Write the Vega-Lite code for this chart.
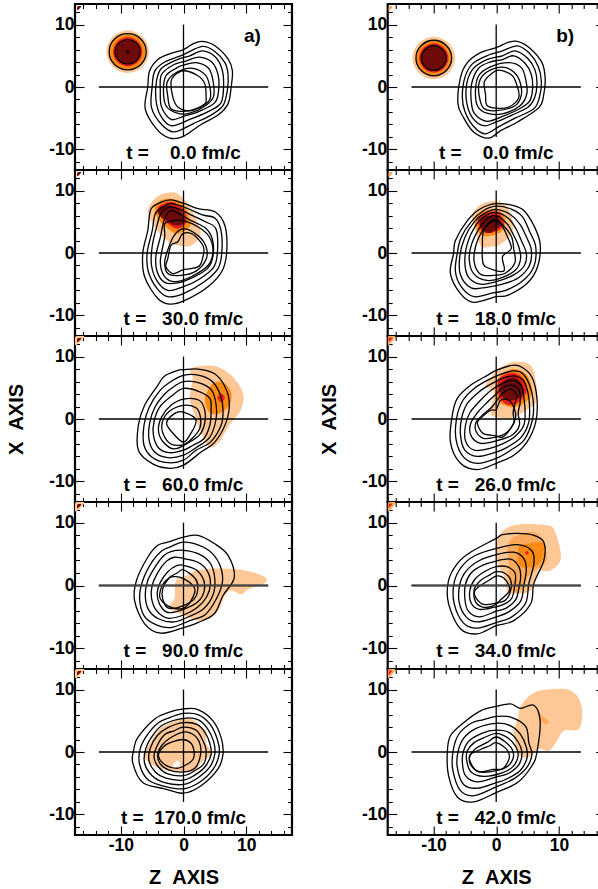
{"$schema":"https://vega.github.io/schema/vega-lite/v6.json","padding":{"left":5,"top":2,"right":0,"bottom":0},"background":"white",
"config":{"view":{"stroke":"black","strokeWidth":2.2},"axis":{"domain":false,"grid":false,"labelFont":"Liberation Sans","labelFontWeight":"bold","labelFontSize":17.5,"labelColor":"black","labelPadding":10,"tickColor":"black","tickWidth":1.1,"titleFont":"Liberation Sans","titleFontWeight":"bold","titleFontSize":20,"titleColor":"black","titlePadding":14},"text":{"font":"Liberation Sans","fontWeight":"bold","fontSize":19,"color":"black","baseline":"middle"}},
"datasets":{
"cross":[{"c":"h","z":-13.5,"x":0},{"c":"h","z":13.5,"x":0},{"c":"v","z":0,"x":10},{"c":"v","z":0,"x":-8}],
"thick":[{"z":-13.5,"x":0},{"z":13.5,"x":0}],
"c1":[{"c":1,"z":3.0,"x":7.3},{"c":1,"z":5,"x":6.6},{"c":1,"z":7.1,"x":4.5},{"c":1,"z":7.8,"x":2.6},{"c":1,"z":7.6,"x":0},{"c":1,"z":7.1,"x":-2.7},{"c":1,"z":5.5,"x":-4.5},{"c":1,"z":2.8,"x":-6},{"c":1,"z":0,"x":-7.9},{"c":1,"z":-2.2,"x":-8.2},{"c":1,"z":-4.3,"x":-6.7},{"c":1,"z":-6.1,"x":-3.5},{"c":1,"z":-5.7,"x":0},{"c":1,"z":-5.4,"x":2.6},{"c":1,"z":-4,"x":4.5},{"c":1,"z":-2,"x":5.4},{"c":1,"z":0,"x":6},{"c":1,"z":1.5,"x":6.9},
{"c":2,"z":3,"x":6.5},{"c":2,"z":5,"x":5.7},{"c":2,"z":6.6,"x":3.9},{"c":2,"z":7.1,"x":2},{"c":2,"z":7,"x":-0.5},{"c":2,"z":6.3,"x":-3},{"c":2,"z":4.4,"x":-4.5},{"c":2,"z":1.5,"x":-5.9},{"c":2,"z":-1.5,"x":-7.2},{"c":2,"z":-3.5,"x":-6},{"c":2,"z":-5.1,"x":-3.3},{"c":2,"z":-5,"x":0},{"c":2,"z":-4.6,"x":2.5},{"c":2,"z":-3,"x":4},{"c":2,"z":0,"x":5.2},
{"c":3,"z":3,"x":5.8},{"c":3,"z":5,"x":4.9},{"c":3,"z":6.1,"x":3},{"c":3,"z":6.4,"x":0.5},{"c":3,"z":6,"x":-2.5},{"c":3,"z":4,"x":-3.9},{"c":3,"z":1,"x":-5.2},{"c":3,"z":-2,"x":-6.2},{"c":3,"z":-3.7,"x":-4.5},{"c":3,"z":-4.4,"x":-2},{"c":3,"z":-4.3,"x":1},{"c":3,"z":-3.5,"x":3},{"c":3,"z":-1,"x":4.4},{"c":3,"z":1,"x":5},
{"c":4,"z":2.5,"x":4.8},{"c":4,"z":4.5,"x":4},{"c":4,"z":5.5,"x":2},{"c":4,"z":5.6,"x":-0.5},{"c":4,"z":5,"x":-2.5},{"c":4,"z":2.5,"x":-3.9},{"c":4,"z":0,"x":-4.7},{"c":4,"z":-2,"x":-5.2},{"c":4,"z":-3.5,"x":-3.2},{"c":4,"z":-3.7,"x":-0.5},{"c":4,"z":-3.5,"x":2},{"c":4,"z":-1.5,"x":3.6},{"c":4,"z":0.5,"x":4.2},
{"c":5,"z":2,"x":3.9},{"c":5,"z":4,"x":3},{"c":5,"z":4.7,"x":1},{"c":5,"z":4.8,"x":-1.5},{"c":5,"z":3.5,"x":-3},{"c":5,"z":1,"x":-4.2},{"c":5,"z":-1,"x":-4.2},{"c":5,"z":-2.8,"x":-3},{"c":5,"z":-3.2,"x":-0.5},{"c":5,"z":-2.8,"x":1.8},{"c":5,"z":-1,"x":3.1},{"c":5,"z":0,"x":3.5},
{"c":6,"z":1.5,"x":3},{"c":6,"z":3.5,"x":1.9},{"c":6,"z":4.2,"x":0},{"c":6,"z":4.2,"x":-2},{"c":6,"z":2.5,"x":-3.3},{"c":6,"z":0,"x":-3.9},{"c":6,"z":-2,"x":-3.5},{"c":6,"z":-2.5,"x":-1.5},{"c":6,"z":-2.6,"x":0.8},{"c":6,"z":-1,"x":2.4},
{"c":7,"z":0,"x":2.6},{"c":7,"z":2.3,"x":1.8},{"c":7,"z":3.4,"x":0.5},{"c":7,"z":3.6,"x":-1.6},{"c":7,"z":3.4,"x":-2.7},{"c":7,"z":1.2,"x":-3.8},{"c":7,"z":-0.9,"x":-3.2},{"c":7,"z":-1.7,"x":-1.6},{"c":7,"z":-2,"x":0.8},{"c":7,"z":-1.5,"x":1.8},
{"c":8,"z":-5.95,"x":5.65},{"c":8,"z":-6.8,"x":7.7},{"c":8,"z":-8.9,"x":8.55},{"c":8,"z":-11,"x":7.7},{"c":8,"z":-11.85,"x":5.65},{"c":8,"z":-11,"x":3.6},{"c":8,"z":-8.9,"x":2.75},{"c":8,"z":-6.8,"x":3.6},
{"c":9,"z":-6.9,"x":5.65},{"c":9,"z":-7.5,"x":7.05},{"c":9,"z":-8.9,"x":7.6},{"c":9,"z":-10.3,"x":7.05},{"c":9,"z":-10.9,"x":5.65},{"c":9,"z":-10.3,"x":4.25},{"c":9,"z":-8.9,"x":3.7},{"c":9,"z":-7.5,"x":4.25},
{"c":10,"z":-8.75,"x":5.65},{"c":10,"z":-8.9,"x":5.8},{"c":10,"z":-9.05,"x":5.65},{"c":10,"z":-8.9,"x":5.5}],
"b1":[{"c":1,"l":"l","z":-5.5,"x":5.65},{"c":1,"l":"l","z":-6.5,"x":8.05},{"c":1,"l":"l","z":-8.9,"x":9.05},{"c":1,"l":"l","z":-11.3,"x":8.05},{"c":1,"l":"l","z":-12.3,"x":5.65},{"c":1,"l":"l","z":-11.3,"x":3.25},{"c":1,"l":"l","z":-8.9,"x":2.25},{"c":1,"l":"l","z":-6.5,"x":3.25},
{"c":2,"l":"o","z":-6.1,"x":5.65},{"c":2,"l":"o","z":-6.9,"x":7.65},{"c":2,"l":"o","z":-8.9,"x":8.45},{"c":2,"l":"o","z":-10.9,"x":7.65},{"c":2,"l":"o","z":-11.7,"x":5.65},{"c":2,"l":"o","z":-10.9,"x":3.65},{"c":2,"l":"o","z":-8.9,"x":2.85},{"c":2,"l":"o","z":-6.9,"x":3.65},
{"c":3,"l":"r","z":-6.55,"x":5.65},{"c":3,"l":"r","z":-7.25,"x":7.3},{"c":3,"l":"r","z":-8.9,"x":8},{"c":3,"l":"r","z":-10.55,"x":7.3},{"c":3,"l":"r","z":-11.25,"x":5.65},{"c":3,"l":"r","z":-10.55,"x":4},{"c":3,"l":"r","z":-8.9,"x":3.3},{"c":3,"l":"r","z":-7.25,"x":4},
{"c":4,"l":"d","z":-6.9,"x":5.65},{"c":4,"l":"d","z":-7.5,"x":7.05},{"c":4,"l":"d","z":-8.9,"x":7.5},{"c":4,"l":"d","z":-10.3,"x":7.05},{"c":4,"l":"d","z":-10.9,"x":5.65},{"c":4,"l":"d","z":-10.3,"x":4.25},{"c":4,"l":"d","z":-8.9,"x":3.8},{"c":4,"l":"d","z":-7.5,"x":4.25},
{"c":5,"l":"d","z":-16.9,"x":12.3},{"c":5,"l":"d","z":-16.3,"x":12.9},{"c":5,"l":"d","z":-16.9,"x":12.9}],
"c2":[{"c":1,"z":-2,"x":8.5},{"c":1,"z":0.2,"x":7.9},{"c":1,"z":2.3,"x":7.1},{"c":1,"z":5,"x":6.6},{"c":1,"z":6.6,"x":4.4},{"c":1,"z":6.9,"x":0.4},{"c":1,"z":6.2,"x":-2.8},{"c":1,"z":3.9,"x":-5.4},{"c":1,"z":0.2,"x":-7.6},{"c":1,"z":-2.2,"x":-8.2},{"c":1,"z":-4.1,"x":-7.3},{"c":1,"z":-6.2,"x":-3.8},{"c":1,"z":-6.5,"x":-0.1},{"c":1,"z":-5.7,"x":3.6},{"c":1,"z":-5.2,"x":7},{"c":1,"z":-3.6,"x":8.1},
{"c":2,"z":-2,"x":7.9},{"c":2,"z":0.5,"x":7.2},{"c":2,"z":3,"x":6.1},{"c":2,"z":5,"x":5.6},{"c":2,"z":6,"x":3.5},{"c":2,"z":6.1,"x":0},{"c":2,"z":5.5,"x":-2.5},{"c":2,"z":3.2,"x":-4.7},{"c":2,"z":0,"x":-6.5},{"c":2,"z":-2.5,"x":-7},{"c":2,"z":-4.2,"x":-5.7},{"c":2,"z":-5.6,"x":-3},{"c":2,"z":-5.8,"x":0},{"c":2,"z":-5,"x":3.5},{"c":2,"z":-4.5,"x":6.3},{"c":2,"z":-3.2,"x":7.4},
{"c":3,"z":-1.8,"x":7.4},{"c":3,"z":1,"x":6.2},{"c":3,"z":3.5,"x":5},{"c":3,"z":5.2,"x":3.8},{"c":3,"z":5.4,"x":0},{"c":3,"z":4.8,"x":-2.3},{"c":3,"z":2.5,"x":-4.2},{"c":3,"z":0,"x":-5.4},{"c":3,"z":-2.5,"x":-6},{"c":3,"z":-4.2,"x":-4.5},{"c":3,"z":-5.1,"x":-2},{"c":3,"z":-5,"x":1},{"c":3,"z":-4.2,"x":4.5},{"c":3,"z":-3.5,"x":6.5},
{"c":4,"z":-1.8,"x":6.8},{"c":4,"z":1,"x":5.3},{"c":4,"z":3.5,"x":4},{"c":4,"z":4.6,"x":2.2},{"c":4,"z":4.7,"x":-0.5},{"c":4,"z":3.8,"x":-2.5},{"c":4,"z":1.5,"x":-3.9},{"c":4,"z":-1,"x":-4.8},{"c":4,"z":-3,"x":-4.7},{"c":4,"z":-4.2,"x":-3},{"c":4,"z":-4.4,"x":-0.5},{"c":4,"z":-3.7,"x":2.5},{"c":4,"z":-3,"x":5.5},
{"c":5,"z":-1.4,"x":5.2},{"c":5,"z":0,"x":5.2},{"c":5,"z":2.3,"x":4.2},{"c":5,"z":4.1,"x":2.6},{"c":5,"z":4.7,"x":0.2},{"c":5,"z":3.9,"x":-2},{"c":5,"z":1.2,"x":-3.8},{"c":5,"z":-1.4,"x":-4.6},{"c":5,"z":-3,"x":-3.8},{"c":5,"z":-3.7,"x":-1.4},{"c":5,"z":-3,"x":2.6},{"c":5,"z":-3,"x":4.7},
{"c":6,"z":0,"x":3.9},{"c":6,"z":2.3,"x":2.8},{"c":6,"z":3.6,"x":1},{"c":6,"z":3.6,"x":-1},{"c":6,"z":2,"x":-2.9},{"c":6,"z":-0.5,"x":-3.6},{"c":6,"z":-2.5,"x":-3.3},{"c":6,"z":-3,"x":-1.5},{"c":6,"z":-2.5,"x":0.5},{"c":6,"z":-1.5,"x":2.8},
{"c":7,"z":-2,"x":1.2},{"c":7,"z":-0.9,"x":1.8},{"c":7,"z":-0.1,"x":3.1},{"c":7,"z":1.5,"x":3},{"c":7,"z":3.1,"x":1.2},{"c":7,"z":3.2,"x":-0.1},{"c":7,"z":2.6,"x":-2},{"c":7,"z":1.2,"x":-2.5},{"c":7,"z":-0.1,"x":-2.7},{"c":7,"z":-1.7,"x":-3.3},{"c":7,"z":-2.8,"x":-2.2},{"c":7,"z":-2.5,"x":-0.9}],
"b2":[{"c":1,"l":"l","z":-2.8,"x":9.6},{"c":1,"l":"l","z":-0.9,"x":9.5},{"c":1,"l":"l","z":0.96,"x":7.4},{"c":1,"l":"l","z":2.3,"x":4.7},{"c":1,"l":"l","z":2.7,"x":2.8},{"c":1,"l":"l","z":1.2,"x":1.2},{"c":1,"l":"l","z":-0.9,"x":1.2},{"c":1,"l":"l","z":-3,"x":2.3},{"c":1,"l":"l","z":-4.6,"x":4.2},{"c":1,"l":"l","z":-5.7,"x":6.6},{"c":1,"l":"l","z":-4.6,"x":8.7},
{"c":2,"l":"o","z":-2,"x":8.7},{"c":2,"l":"o","z":-0.1,"x":7.9},{"c":2,"l":"o","z":1,"x":5.5},{"c":2,"l":"o","z":1,"x":4.2},{"c":2,"l":"o","z":-0.9,"x":3.1},{"c":2,"l":"o","z":-2.5,"x":3.9},{"c":2,"l":"o","z":-4.1,"x":5.5},{"c":2,"l":"o","z":-4.6,"x":7.4},{"c":2,"l":"o","z":-3.6,"x":8.4},
{"c":3,"l":"r","z":-2,"x":8.2},{"c":3,"l":"r","z":-0.1,"x":7.1},{"c":3,"l":"r","z":0.5,"x":5},{"c":3,"l":"r","z":-0.9,"x":3.9},{"c":3,"l":"r","z":-2.5,"x":4.7},{"c":3,"l":"r","z":-3.8,"x":6},{"c":3,"l":"r","z":-4.1,"x":7.3},
{"c":4,"l":"d","z":-2,"x":7.6},{"c":4,"l":"d","z":-0.4,"x":6.6},{"c":4,"l":"d","z":0.2,"x":5},{"c":4,"l":"d","z":-1.2,"x":4.4},{"c":4,"l":"d","z":-2.8,"x":5.2},{"c":4,"l":"d","z":-4,"x":6.3},{"c":4,"l":"d","z":-3.6,"x":7.4},
{"c":5,"l":"d","z":-16.9,"x":12.3},{"c":5,"l":"d","z":-16.3,"x":12.9},{"c":5,"l":"d","z":-16.9,"x":12.9}],
"c3":[{"c":1,"z":-0.9,"x":7.8},{"c":1,"z":0,"x":7.9},{"c":1,"z":2.3,"x":8},{"c":1,"z":4.9,"x":7.3},{"c":1,"z":6.5,"x":5.4},{"c":1,"z":7.3,"x":2.7},{"c":1,"z":6.8,"x":-0.5},{"c":1,"z":5,"x":-3.7},{"c":1,"z":2.8,"x":-5.3},{"c":1,"z":0,"x":-7.4},{"c":1,"z":-2.2,"x":-7.9},{"c":1,"z":-4.9,"x":-7.2},{"c":1,"z":-7.2,"x":-5},{"c":1,"z":-7.2,"x":-1},{"c":1,"z":-6.2,"x":2.2},{"c":1,"z":-4.1,"x":5.4},{"c":1,"z":-3,"x":6.9},
{"c":2,"z":0,"x":7},{"c":2,"z":2.5,"x":7},{"c":2,"z":4.6,"x":6},{"c":2,"z":5.9,"x":3.8},{"c":2,"z":6.3,"x":1.5},{"c":2,"z":6,"x":-1},{"c":2,"z":4.3,"x":-3.7},{"c":2,"z":2,"x":-5},{"c":2,"z":0,"x":-6.6},{"c":2,"z":-2.5,"x":-7},{"c":2,"z":-4.9,"x":-6.2},{"c":2,"z":-6.3,"x":-4.2},{"c":2,"z":-6.3,"x":-1},{"c":2,"z":-5.5,"x":1.8},{"c":2,"z":-3.8,"x":4.5},{"c":2,"z":-2,"x":6},
{"c":3,"z":0,"x":6},{"c":3,"z":2.5,"x":5.8},{"c":3,"z":4.5,"x":4.6},{"c":3,"z":5.2,"x":2.3},{"c":3,"z":5.2,"x":0},{"c":3,"z":4.2,"x":-2.9},{"c":3,"z":2,"x":-4.6},{"c":3,"z":0,"x":-5.8},{"c":3,"z":-2.5,"x":-6.2},{"c":3,"z":-4.6,"x":-5.3},{"c":3,"z":-5.5,"x":-3.3},{"c":3,"z":-5.4,"x":-0.7},{"c":3,"z":-4.6,"x":1.8},{"c":3,"z":-3,"x":4},{"c":3,"z":-1.5,"x":5.2},
{"c":4,"z":0,"x":4.9},{"c":4,"z":2.5,"x":4.4},{"c":4,"z":4.2,"x":3.3},{"c":4,"z":4.4,"x":1.4},{"c":4,"z":4.2,"x":-1},{"c":4,"z":3.2,"x":-3.2},{"c":4,"z":1.5,"x":-4.2},{"c":4,"z":0,"x":-5},{"c":4,"z":-2.3,"x":-5.4},{"c":4,"z":-4,"x":-4.6},{"c":4,"z":-4.8,"x":-2.6},{"c":4,"z":-4.7,"x":-0.4},{"c":4,"z":-3.8,"x":1.9},{"c":4,"z":-2,"x":3.6},
{"c":5,"z":0,"x":3.2},{"c":5,"z":2.5,"x":3},{"c":5,"z":3.4,"x":1.4},{"c":5,"z":3.4,"x":-0.6},{"c":5,"z":2.6,"x":-2.5},{"c":5,"z":0.8,"x":-3.8},{"c":5,"z":-1.5,"x":-4.8},{"c":5,"z":-3.3,"x":-3.6},{"c":5,"z":-4,"x":-1.8},{"c":5,"z":-3.5,"x":0.3},{"c":5,"z":-2,"x":2.2},
{"c":6,"z":0,"x":2.2},{"c":6,"z":2,"x":1.8},{"c":6,"z":2.7,"x":0.3},{"c":6,"z":2.6,"x":-1.5},{"c":6,"z":1.5,"x":-3},{"c":6,"z":0,"x":-4.1},{"c":6,"z":-2,"x":-4},{"c":6,"z":-3.2,"x":-2.5},{"c":6,"z":-3.4,"x":-0.6},{"c":6,"z":-2.3,"x":1.2},
{"c":7,"z":-1.4,"x":0.9},{"c":7,"z":0,"x":1.1},{"c":7,"z":2,"x":-0.2},{"c":7,"z":1,"x":-2.6},{"c":7,"z":0,"x":-3.7},{"c":7,"z":-1.4,"x":-2.6},{"c":7,"z":-2.7,"x":-0.7}],
"b3":[{"c":1,"l":"l","z":1.2,"x":8.1},{"c":1,"l":"l","z":4.9,"x":8.5},{"c":1,"l":"l","z":7.6,"x":7},{"c":1,"l":"l","z":9.5,"x":4.1},{"c":1,"l":"l","z":9.1,"x":1.4},{"c":1,"l":"l","z":7.3,"x":-1},{"c":1,"l":"l","z":5.7,"x":-3.7},{"c":1,"l":"l","z":4.1,"x":-4.5},{"c":1,"l":"l","z":2.8,"x":-2.1},{"c":1,"l":"l","z":2,"x":0.1},{"c":1,"l":"l","z":1,"x":3.3},{"c":1,"l":"l","z":1.5,"x":6.5},
{"c":2,"l":"o","z":4.7,"x":5.7},{"c":2,"l":"o","z":6.3,"x":5.9},{"c":2,"l":"o","z":7.6,"x":4.3},{"c":2,"l":"o","z":7.3,"x":2.2},{"c":2,"l":"o","z":5.7,"x":0.9},{"c":2,"l":"o","z":4.1,"x":1.1},{"c":2,"l":"o","z":3.4,"x":3},{"c":2,"l":"o","z":3.9,"x":4.6},
{"c":3,"l":"r","z":6.6,"x":3.4},{"c":3,"l":"r","z":6,"x":4.1},{"c":3,"l":"r","z":5.4,"x":3.4},{"c":3,"l":"r","z":6,"x":2.7},
{"c":4,"l":"l","z":-17.2,"x":11.8},{"c":4,"l":"l","z":-15.8,"x":13.2},{"c":4,"l":"l","z":-17.2,"x":13.2},
{"c":5,"l":"d","z":-16.9,"x":12.3},{"c":5,"l":"d","z":-16.3,"x":12.9},{"c":5,"l":"d","z":-16.9,"x":12.9}],
"c4":[{"c":1,"z":-2.5,"x":6.9},{"c":1,"z":0,"x":7.7},{"c":1,"z":2.3,"x":8},{"c":1,"z":4.9,"x":6.7},{"c":1,"z":7.1,"x":4.8},{"c":1,"z":8.1,"x":1.3},{"c":1,"z":6.3,"x":-1.6},{"c":1,"z":4.9,"x":-4.5},{"c":1,"z":2.3,"x":-5.9},{"c":1,"z":0,"x":-6.7},{"c":1,"z":-3.6,"x":-7.6},{"c":1,"z":-6.2,"x":-6.1},{"c":1,"z":-7.8,"x":-2.4},{"c":1,"z":-7.5,"x":0.8},{"c":1,"z":-5.7,"x":4.5},{"c":1,"z":-4.1,"x":6.4},
{"c":2,"z":-2,"x":6.2},{"c":2,"z":0,"x":6.9},{"c":2,"z":2.5,"x":6.4},{"c":2,"z":4.5,"x":5.2},{"c":2,"z":5.9,"x":3},{"c":2,"z":6.2,"x":0.5},{"c":2,"z":5.2,"x":-2.2},{"c":2,"z":3.5,"x":-4.6},{"c":2,"z":1,"x":-5.6},{"c":2,"z":-2,"x":-6.7},{"c":2,"z":-4.5,"x":-6.2},{"c":2,"z":-6.3,"x":-4.8},{"c":2,"z":-7,"x":-2},{"c":2,"z":-6.5,"x":0.8},{"c":2,"z":-5,"x":3.8},{"c":2,"z":-3.5,"x":5.5},
{"c":3,"z":-2,"x":5.4},{"c":3,"z":0,"x":5.6},{"c":3,"z":2.5,"x":5},{"c":3,"z":4.3,"x":3.5},{"c":3,"z":5,"x":1},{"c":3,"z":4.7,"x":-1.5},{"c":3,"z":3.2,"x":-3.7},{"c":3,"z":1,"x":-4.9},{"c":3,"z":-1.5,"x":-5.8},{"c":3,"z":-4,"x":-5.3},{"c":3,"z":-5.6,"x":-3.8},{"c":3,"z":-6.1,"x":-1.5},{"c":3,"z":-5.7,"x":0.8},{"c":3,"z":-4.5,"x":3},{"c":3,"z":-3.2,"x":4.7},
{"c":4,"z":-1.5,"x":4.5},{"c":4,"z":0,"x":4.3},{"c":4,"z":2.3,"x":3.7},{"c":4,"z":3.8,"x":2.3},{"c":4,"z":4.3,"x":0.3},{"c":4,"z":3.7,"x":-1.8},{"c":4,"z":2.2,"x":-3.5},{"c":4,"z":0,"x":-4.7},{"c":4,"z":-2.5,"x":-5.2},{"c":4,"z":-4.3,"x":-4},{"c":4,"z":-5.1,"x":-2},{"c":4,"z":-5,"x":0},{"c":4,"z":-4,"x":2.2},{"c":4,"z":-2.8,"x":3.8},
{"c":5,"z":-1,"x":3.2},{"c":5,"z":0,"x":3.2},{"c":5,"z":2,"x":2.5},{"c":5,"z":3.2,"x":0.9},{"c":5,"z":3.3,"x":-0.9},{"c":5,"z":2.3,"x":-2.6},{"c":5,"z":0,"x":-3.8},{"c":5,"z":-2.5,"x":-4.3},{"c":5,"z":-3.8,"x":-3},{"c":5,"z":-4.2,"x":-1.2},{"c":5,"z":-3.7,"x":0.5},{"c":5,"z":-2.5,"x":2.2},
{"c":6,"z":-1,"x":2},{"c":6,"z":0,"x":2.5},{"c":6,"z":1.8,"x":1.2},{"c":6,"z":2.3,"x":-0.2},{"c":6,"z":1.8,"x":-2},{"c":6,"z":0,"x":-3.2},{"c":6,"z":-2.4,"x":-3.6},{"c":6,"z":-3.3,"x":-2.2},{"c":6,"z":-3.3,"x":-0.5},{"c":6,"z":-2.3,"x":1.2},
{"c":7,"z":-1.7,"x":1.4},{"c":7,"z":0,"x":1.1},{"c":7,"z":1.8,"x":-0.5},{"c":7,"z":1.2,"x":-2.4},{"c":7,"z":0,"x":-3.6},{"c":7,"z":-2,"x":-3.5},{"c":7,"z":-3.7,"x":-2.1},{"c":7,"z":-3.6,"x":-0.5},{"c":7,"z":-2.8,"x":0.8}],
"b4":[{"c":1,"l":"l","z":0.7,"x":1.6},{"c":1,"l":"l","z":1.8,"x":2.3},{"c":1,"l":"l","z":4.9,"x":2.7},{"c":1,"l":"l","z":9.2,"x":2.5},{"c":1,"l":"l","z":12.9,"x":1.4},{"c":1,"l":"l","z":12.9,"x":0.3},{"c":1,"l":"l","z":10.5,"x":-0.5},{"c":1,"l":"l","z":9.2,"x":-1.4},{"c":1,"l":"l","z":7.6,"x":-0.8},{"c":1,"l":"l","z":6.6,"x":-1.6},{"c":1,"l":"l","z":5.2,"x":-4.5},{"c":1,"l":"l","z":2.8,"x":-5.6},{"c":1,"l":"l","z":0.2,"x":-4.8},{"c":1,"l":"l","z":-2.2,"x":-3.5},{"c":1,"l":"l","z":-1.4,"x":-1.9},{"c":1,"l":"l","z":-1.2,"x":0.8},
{"c":2,"l":"l","z":-17.2,"x":11.8},{"c":2,"l":"l","z":-15.8,"x":13.2},{"c":2,"l":"l","z":-17.2,"x":13.2},
{"c":3,"l":"d","z":-16.9,"x":12.3},{"c":3,"l":"d","z":-16.3,"x":12.9},{"c":3,"l":"d","z":-16.9,"x":12.9}],
"c5":[{"c":1,"z":0,"x":6.9},{"c":1,"z":2.3,"x":6.8},{"c":1,"z":4.7,"x":5},{"c":1,"z":6,"x":2.3},{"c":1,"z":6.3,"x":-0.3},{"c":1,"z":5.5,"x":-2.7},{"c":1,"z":2.8,"x":-5.4},{"c":1,"z":0,"x":-6.6},{"c":1,"z":-3,"x":-5.9},{"c":1,"z":-6.5,"x":-4.9},{"c":1,"z":-8.1,"x":-1.7},{"c":1,"z":-7.9,"x":0.5},{"c":1,"z":-7.3,"x":2.3},{"c":1,"z":-4.6,"x":5.3},{"c":1,"z":-2.5,"x":6.3},
{"c":2,"z":0,"x":6.2},{"c":2,"z":2.3,"x":6},{"c":2,"z":4.2,"x":4.5},{"c":2,"z":5.4,"x":2},{"c":2,"z":5.7,"x":-0.3},{"c":2,"z":4.7,"x":-2.8},{"c":2,"z":2.5,"x":-4.9},{"c":2,"z":0,"x":-5.9},{"c":2,"z":-3,"x":-5.5},{"c":2,"z":-5.6,"x":-4.5},{"c":2,"z":-7,"x":-2},{"c":2,"z":-6.9,"x":0.5},{"c":2,"z":-5.8,"x":2.7},{"c":2,"z":-4,"x":4.7},{"c":2,"z":-2,"x":5.6},
{"c":3,"z":0,"x":5.4},{"c":3,"z":2.3,"x":5.2},{"c":3,"z":3.8,"x":3.8},{"c":3,"z":4.8,"x":1.7},{"c":3,"z":5,"x":-0.3},{"c":3,"z":4.2,"x":-2.4},{"c":3,"z":2.2,"x":-4.2},{"c":3,"z":0,"x":-5.2},{"c":3,"z":-3,"x":-4.9},{"c":3,"z":-5,"x":-3.8},{"c":3,"z":-6.2,"x":-1.8},{"c":3,"z":-6,"x":0.6},{"c":3,"z":-4.8,"x":2.8},{"c":3,"z":-3.2,"x":4.4},
{"c":4,"z":0,"x":4.7},{"c":4,"z":2.2,"x":4.4},{"c":4,"z":3.4,"x":3.2},{"c":4,"z":4.2,"x":1.4},{"c":4,"z":4.4,"x":-0.4},{"c":4,"z":3.4,"x":-2.4},{"c":4,"z":1.8,"x":-3.7},{"c":4,"z":0,"x":-4.5},{"c":4,"z":-2.8,"x":-4.2},{"c":4,"z":-4.5,"x":-3.2},{"c":4,"z":-5.5,"x":-1.4},{"c":4,"z":-5.3,"x":0.6},{"c":4,"z":-4.2,"x":2.6},{"c":4,"z":-2.5,"x":3.9},
{"c":5,"z":0,"x":4},{"c":5,"z":2,"x":3.5},{"c":5,"z":3,"x":2},{"c":5,"z":3.6,"x":0.3},{"c":5,"z":3.3,"x":-1.8},{"c":5,"z":1.8,"x":-3},{"c":5,"z":0,"x":-3.8},{"c":5,"z":-2.5,"x":-3.5},{"c":5,"z":-4,"x":-2.4},{"c":5,"z":-4.7,"x":-0.8},{"c":5,"z":-4.2,"x":1},{"c":5,"z":-3,"x":2.8},{"c":5,"z":-1.5,"x":3.4},
{"c":6,"z":0,"x":3.2},{"c":6,"z":1.8,"x":2.6},{"c":6,"z":2.7,"x":1},{"c":6,"z":2.6,"x":-1},{"c":6,"z":1.8,"x":-2.6},{"c":6,"z":0,"x":-3.2},{"c":6,"z":-2.3,"x":-2.9},{"c":6,"z":-3.8,"x":-1.8},{"c":6,"z":-4.1,"x":-0.2},{"c":6,"z":-3.5,"x":1},{"c":6,"z":-2.2,"x":2.2},
{"c":7,"z":0,"x":2},{"c":7,"z":1.2,"x":1.4},{"c":7,"z":1.7,"x":0},{"c":7,"z":1.5,"x":-1.2},{"c":7,"z":0.5,"x":-2},{"c":7,"z":-1,"x":-2.6},{"c":7,"z":-3,"x":-2},{"c":7,"z":-4,"x":-0.5},{"c":7,"z":-3,"x":1},{"c":7,"z":-1.5,"x":1.7}],
"b5":[{"c":1,"l":"l","z":-1.2,"x":5},{"c":1,"l":"l","z":1.2,"x":5.3},{"c":1,"l":"l","z":3.4,"x":3.4},{"c":1,"l":"l","z":3.6,"x":1.5},{"c":1,"l":"l","z":4.4,"x":-0.3},{"c":1,"l":"l","z":2.8,"x":-1.7},{"c":1,"l":"l","z":1.8,"x":-3},{"c":1,"l":"l","z":-0.9,"x":-3.1},{"c":1,"l":"l","z":-4.1,"x":-2.5},{"c":1,"l":"l","z":-6.2,"x":-0.6},{"c":1,"l":"l","z":-4.6,"x":2.6},{"c":1,"l":"l","z":-3.6,"x":3.9},
{"c":2,"l":"w","z":-1.1,"x":-1.4},{"c":2,"l":"w","z":-0.5,"x":-1.9},{"c":2,"l":"w","z":-1.2,"x":-2.7},{"c":2,"l":"w","z":-1.7,"x":-2.2},
{"c":3,"l":"l","z":-17.2,"x":11.8},{"c":3,"l":"l","z":-15.8,"x":13.2},{"c":3,"l":"l","z":-17.2,"x":13.2},
{"c":4,"l":"d","z":-16.9,"x":12.3},{"c":4,"l":"d","z":-16.3,"x":12.9},{"c":4,"l":"d","z":-16.9,"x":12.9}],
"c6":[{"c":1,"z":3.4,"x":7.3},{"c":1,"z":5.5,"x":6.1},{"c":1,"z":7.3,"x":3.9},{"c":1,"z":7.8,"x":1.5},{"c":1,"z":7.6,"x":-1.1},{"c":1,"z":6.8,"x":-3.3},{"c":1,"z":3.4,"x":-5.6},{"c":1,"z":0.7,"x":-7},{"c":1,"z":-1.2,"x":-8.2},{"c":1,"z":-3.6,"x":-7.2},{"c":1,"z":-5.2,"x":-4.9},{"c":1,"z":-6.1,"x":-2.7},{"c":1,"z":-5.7,"x":1.5},{"c":1,"z":-4.6,"x":3.9},{"c":1,"z":-2.5,"x":5.5},{"c":1,"z":0,"x":6.3},{"c":1,"z":1.8,"x":7.1},
{"c":2,"z":3.4,"x":6.6},{"c":2,"z":5.3,"x":5.4},{"c":2,"z":6.7,"x":3.3},{"c":2,"z":7.2,"x":0.9},{"c":2,"z":6.9,"x":-1.6},{"c":2,"z":6,"x":-3.5},{"c":2,"z":3,"x":-5},{"c":2,"z":0.5,"x":-6.3},{"c":2,"z":-1.8,"x":-7.5},{"c":2,"z":-3.7,"x":-6.2},{"c":2,"z":-5,"x":-3.9},{"c":2,"z":-5.4,"x":-1.6},{"c":2,"z":-5,"x":1.5},{"c":2,"z":-3.8,"x":3.7},{"c":2,"z":-1.5,"x":5},{"c":2,"z":1,"x":5.8},
{"c":3,"z":3,"x":5.8},{"c":3,"z":5,"x":4.6},{"c":3,"z":6.2,"x":2.7},{"c":3,"z":6.5,"x":0.4},{"c":3,"z":6.1,"x":-1.8},{"c":3,"z":5,"x":-3.3},{"c":3,"z":2.5,"x":-4.5},{"c":3,"z":0,"x":-5.6},{"c":3,"z":-2,"x":-6.2},{"c":3,"z":-3.8,"x":-4.9},{"c":3,"z":-4.7,"x":-2.5},{"c":3,"z":-4.7,"x":0.5},{"c":3,"z":-3.7,"x":2.9},{"c":3,"z":-1.5,"x":4.4},{"c":3,"z":1,"x":5},
{"c":4,"z":2.8,"x":5},{"c":4,"z":4.6,"x":3.8},{"c":4,"z":5.6,"x":2},{"c":4,"z":5.8,"x":-0.3},{"c":4,"z":5.3,"x":-2.3},{"c":4,"z":3.5,"x":-3.6},{"c":4,"z":1,"x":-4.7},{"c":4,"z":-1.5,"x":-5.5},{"c":4,"z":-3.5,"x":-4.2},{"c":4,"z":-4,"x":-2},{"c":4,"z":-3.9,"x":0.6},{"c":4,"z":-2.8,"x":3},{"c":4,"z":-1,"x":4},{"c":4,"z":1,"x":4.4},
{"c":5,"z":2,"x":3.9},{"c":5,"z":4,"x":3.1},{"c":5,"z":4.7,"x":1.2},{"c":5,"z":4.9,"x":-1},{"c":5,"z":3.8,"x":-3},{"c":5,"z":1,"x":-4.3},{"c":5,"z":-1.5,"x":-4.2},{"c":5,"z":-3,"x":-3},{"c":5,"z":-3.3,"x":-0.5},{"c":5,"z":-2.8,"x":1.8},{"c":5,"z":-1,"x":3.2},
{"c":6,"z":1,"x":3.2},{"c":6,"z":2.8,"x":2.4},{"c":6,"z":3.8,"x":0.8},{"c":6,"z":4,"x":-1.3},{"c":6,"z":3,"x":-3},{"c":6,"z":0,"x":-3.8},{"c":6,"z":-2,"x":-3.4},{"c":6,"z":-2.7,"x":-1.5},{"c":6,"z":-2.7,"x":0.8},{"c":6,"z":-1.5,"x":2.4},
{"c":7,"z":0.5,"x":2.7},{"c":7,"z":2.5,"x":1.9},{"c":7,"z":3.3,"x":0.3},{"c":7,"z":3.6,"x":-1.7},{"c":7,"z":2,"x":-3.2},{"c":7,"z":0,"x":-3.4},{"c":7,"z":-1.5,"x":-2.9},{"c":7,"z":-1.7,"x":-1.2},{"c":7,"z":-1.9,"x":0.8},{"c":7,"z":-0.8,"x":2.1},
{"c":8,"z":-7.1,"x":4.64},{"c":8,"z":-7.95,"x":6.64},{"c":8,"z":-9.95,"x":7.49},{"c":8,"z":-11.95,"x":6.64},{"c":8,"z":-12.8,"x":4.64},{"c":8,"z":-11.95,"x":2.64},{"c":8,"z":-9.95,"x":1.79},{"c":8,"z":-7.95,"x":2.64},
{"c":9,"z":-7.95,"x":4.64},{"c":9,"z":-8.55,"x":6},{"c":9,"z":-9.95,"x":6.65},{"c":9,"z":-11.35,"x":6},{"c":9,"z":-11.95,"x":4.64},{"c":9,"z":-11.35,"x":3.25},{"c":9,"z":-9.95,"x":2.65},{"c":9,"z":-8.55,"x":3.25}],
"b6":[{"c":1,"l":"l","z":-6.55,"x":4.64},{"c":1,"l":"l","z":-7.55,"x":7.04},{"c":1,"l":"l","z":-9.95,"x":8.04},{"c":1,"l":"l","z":-12.35,"x":7.04},{"c":1,"l":"l","z":-13.35,"x":4.64},{"c":1,"l":"l","z":-12.35,"x":2.24},{"c":1,"l":"l","z":-9.95,"x":1.24},{"c":1,"l":"l","z":-7.55,"x":2.24},
{"c":2,"l":"o","z":-7.1,"x":4.64},{"c":2,"l":"o","z":-7.95,"x":6.64},{"c":2,"l":"o","z":-9.95,"x":7.49},{"c":2,"l":"o","z":-11.95,"x":6.64},{"c":2,"l":"o","z":-12.8,"x":4.64},{"c":2,"l":"o","z":-11.95,"x":2.64},{"c":2,"l":"o","z":-9.95,"x":1.79},{"c":2,"l":"o","z":-7.95,"x":2.64},
{"c":3,"l":"r","z":-7.6,"x":4.64},{"c":3,"l":"r","z":-8.3,"x":6.3},{"c":3,"l":"r","z":-9.95,"x":7},{"c":3,"l":"r","z":-11.6,"x":6.3},{"c":3,"l":"r","z":-12.3,"x":4.64},{"c":3,"l":"r","z":-11.6,"x":3},{"c":3,"l":"r","z":-9.95,"x":2.3},{"c":3,"l":"r","z":-8.3,"x":3},
{"c":4,"l":"d","z":-7.95,"x":4.64},{"c":4,"l":"d","z":-8.55,"x":6},{"c":4,"l":"d","z":-9.95,"x":6.6},{"c":4,"l":"d","z":-11.35,"x":6},{"c":4,"l":"d","z":-11.95,"x":4.64},{"c":4,"l":"d","z":-11.35,"x":3.25},{"c":4,"l":"d","z":-9.95,"x":2.65},{"c":4,"l":"d","z":-8.55,"x":3.25},
{"c":5,"l":"m","z":-17.1,"x":12.2},{"c":5,"l":"m","z":-16.5,"x":12.9},{"c":5,"l":"m","z":-17.1,"x":12.9}],
"c7":[{"c":1,"z":0,"x":7.9},{"c":1,"z":2.8,"x":7.6},{"c":1,"z":4.4,"x":6.8},{"c":1,"z":6,"x":4.4},{"c":1,"z":7,"x":1.5},{"c":1,"z":6.6,"x":-2.2},{"c":1,"z":4.9,"x":-4.9},{"c":1,"z":1.8,"x":-6.8},{"c":1,"z":0,"x":-7},{"c":1,"z":-3.6,"x":-7.9},{"c":1,"z":-5.7,"x":-6.5},{"c":1,"z":-7.3,"x":-3.3},{"c":1,"z":-6.8,"x":-0.1},{"c":1,"z":-6.5,"x":2},{"c":1,"z":-4.6,"x":5.2},{"c":1,"z":-2.5,"x":7.1},
{"c":2,"z":0,"x":7.5},{"c":2,"z":2.5,"x":7},{"c":2,"z":4.2,"x":5.8},{"c":2,"z":5.3,"x":3.5},{"c":2,"z":6.3,"x":1},{"c":2,"z":6,"x":-2.2},{"c":2,"z":4.2,"x":-4.5},{"c":2,"z":1.5,"x":-6},{"c":2,"z":-0.5,"x":-6.4},{"c":2,"z":-3.5,"x":-7},{"c":2,"z":-5.5,"x":-5.5},{"c":2,"z":-6.5,"x":-3},{"c":2,"z":-6.2,"x":0},{"c":2,"z":-5.6,"x":2.5},{"c":2,"z":-4,"x":5},{"c":2,"z":-2,"x":6.8},
{"c":3,"z":0,"x":7},{"c":3,"z":2.2,"x":6.2},{"c":3,"z":3.8,"x":4.6},{"c":3,"z":4.8,"x":2.6},{"c":3,"z":5.6,"x":0.5},{"c":3,"z":5.3,"x":-2},{"c":3,"z":3.5,"x":-4},{"c":3,"z":1,"x":-5},{"c":3,"z":-1.5,"x":-5.5},{"c":3,"z":-4,"x":-5.6},{"c":3,"z":-5.7,"x":-3.5},{"c":3,"z":-5.8,"x":-0.5},{"c":3,"z":-5,"x":2.5},{"c":3,"z":-3.5,"x":5},{"c":3,"z":-1.8,"x":6.4},
{"c":4,"z":0,"x":6.5},{"c":4,"z":2,"x":5.5},{"c":4,"z":3.2,"x":3.8},{"c":4,"z":4,"x":2},{"c":4,"z":4.8,"x":0},{"c":4,"z":4.5,"x":-2},{"c":4,"z":2.8,"x":-3.5},{"c":4,"z":0,"x":-4.6},{"c":4,"z":-2.5,"x":-5},{"c":4,"z":-4.4,"x":-3.9},{"c":4,"z":-5,"x":-1.5},{"c":4,"z":-4.6,"x":1.5},{"c":4,"z":-3.3,"x":4.4},{"c":4,"z":-1.7,"x":6},
{"c":5,"z":0,"x":6},{"c":5,"z":1.8,"x":4.6},{"c":5,"z":2.8,"x":2.8},{"c":5,"z":3.6,"x":1},{"c":5,"z":3.9,"x":-0.8},{"c":5,"z":3.2,"x":-2.6},{"c":5,"z":1,"x":-3.9},{"c":5,"z":-1.5,"x":-4.4},{"c":5,"z":-3.6,"x":-3.3},{"c":5,"z":-4.3,"x":-1},{"c":5,"z":-3.9,"x":1.5},{"c":5,"z":-2.8,"x":3.8},{"c":5,"z":-1.5,"x":5.4},
{"c":6,"z":0,"x":5.4},{"c":6,"z":1.5,"x":4},{"c":6,"z":2.5,"x":2.5},{"c":6,"z":2.8,"x":0.6},{"c":6,"z":3,"x":-1.5},{"c":6,"z":1.5,"x":-3.2},{"c":6,"z":-0.5,"x":-3.6},{"c":6,"z":-2.5,"x":-3.4},{"c":6,"z":-3.5,"x":-1.5},{"c":6,"z":-3.3,"x":1},{"c":6,"z":-2.3,"x":3.4},{"c":6,"z":-1.2,"x":4.8},
{"c":7,"z":-2.2,"x":1.2},{"c":7,"z":-2.2,"x":-0.9},{"c":7,"z":-1.7,"x":-2.2},{"c":7,"z":1.2,"x":-2.9},{"c":7,"z":1,"x":-0.6},{"c":7,"z":2.4,"x":0.7},{"c":7,"z":1.8,"x":2.6},{"c":7,"z":0.7,"x":4.7},{"c":7,"z":-0.6,"x":5},{"c":7,"z":-2,"x":3.6}],
"b7":[{"c":1,"l":"l","z":-2,"x":8},{"c":1,"l":"l","z":0.7,"x":8.2},{"c":1,"l":"l","z":2.3,"x":6.3},{"c":1,"l":"l","z":2.6,"x":3.4},{"c":1,"l":"l","z":0.7,"x":1.4},{"c":1,"l":"l","z":-0.9,"x":1},{"c":1,"l":"l","z":-2.5,"x":1.2},{"c":1,"l":"l","z":-3.6,"x":4.7},{"c":1,"l":"l","z":-3.8,"x":6.3},
{"c":2,"l":"o","z":-1.7,"x":6.8},{"c":2,"l":"o","z":0.4,"x":6.8},{"c":2,"l":"o","z":1.5,"x":5.2},{"c":2,"l":"o","z":1,"x":3.6},{"c":2,"l":"o","z":-0.6,"x":2.8},{"c":2,"l":"o","z":-2.2,"x":2.8},{"c":2,"l":"o","z":-3.3,"x":4.2},{"c":2,"l":"o","z":-3,"x":6},
{"c":3,"l":"r","z":-1.5,"x":6.5},{"c":3,"l":"r","z":0.3,"x":6.5},{"c":3,"l":"r","z":1.2,"x":5},{"c":3,"l":"r","z":0.7,"x":3.9},{"c":3,"l":"r","z":-1,"x":3.2},{"c":3,"l":"r","z":-2.4,"x":3.6},{"c":3,"l":"r","z":-2.9,"x":5},{"c":3,"l":"r","z":-2.7,"x":5.9},
{"c":4,"l":"d","z":-1,"x":6},{"c":4,"l":"d","z":0.2,"x":5.8},{"c":4,"l":"d","z":0.8,"x":4.7},{"c":4,"l":"d","z":0.1,"x":3.9},{"c":4,"l":"d","z":-1.2,"x":3.2},{"c":4,"l":"d","z":-2.3,"x":3.9},{"c":4,"l":"d","z":-2.6,"x":4.9},{"c":4,"l":"d","z":-2,"x":5.8},
{"c":5,"l":"m","z":-17.1,"x":12.2},{"c":5,"l":"m","z":-16.5,"x":12.9},{"c":5,"l":"m","z":-17.1,"x":12.9}],
"c8":[{"c":1,"z":2.6,"x":8.6},{"c":1,"z":4.1,"x":8.3},{"c":1,"z":5.7,"x":6.7},{"c":1,"z":6.5,"x":3.3},{"c":1,"z":6.3,"x":-0.5},{"c":1,"z":4.9,"x":-3.7},{"c":1,"z":2.8,"x":-5.8},{"c":1,"z":0,"x":-7.1},{"c":1,"z":-3,"x":-8.1},{"c":1,"z":-5.7,"x":-7.1},{"c":1,"z":-7.3,"x":-3.7},{"c":1,"z":-7,"x":0.6},{"c":1,"z":-6.2,"x":3.3},{"c":1,"z":-4.1,"x":5.4},{"c":1,"z":-1.4,"x":7},{"c":1,"z":0,"x":7.8},
{"c":2,"z":2.8,"x":7.7},{"c":2,"z":4.2,"x":7.3},{"c":2,"z":5.3,"x":5.5},{"c":2,"z":5.9,"x":3},{"c":2,"z":5.8,"x":0},{"c":2,"z":4.5,"x":-3.3},{"c":2,"z":2.3,"x":-5},{"c":2,"z":0,"x":-6.3},{"c":2,"z":-3,"x":-7.1},{"c":2,"z":-5.2,"x":-6.1},{"c":2,"z":-6.4,"x":-3.3},{"c":2,"z":-6.3,"x":0.2},{"c":2,"z":-5.3,"x":3},{"c":2,"z":-3.5,"x":4.9},{"c":2,"z":-1.2,"x":6.3},{"c":2,"z":0.8,"x":7.2},
{"c":3,"z":2.8,"x":6.9},{"c":3,"z":4.3,"x":6.2},{"c":3,"z":5,"x":4.5},{"c":3,"z":5.3,"x":2.3},{"c":3,"z":5.2,"x":-0.5},{"c":3,"z":4,"x":-2.9},{"c":3,"z":1.8,"x":-4.5},{"c":3,"z":0,"x":-5.3},{"c":3,"z":-3,"x":-6},{"c":3,"z":-5,"x":-5},{"c":3,"z":-5.7,"x":-2.5},{"c":3,"z":-5.5,"x":0.2},{"c":3,"z":-4.6,"x":2.5},{"c":3,"z":-2.8,"x":4.3},{"c":3,"z":-1,"x":5.5},{"c":3,"z":1,"x":6.5},
{"c":4,"z":2.6,"x":6.2},{"c":4,"z":4,"x":5.3},{"c":4,"z":4.4,"x":3.5},{"c":4,"z":4.6,"x":1.3},{"c":4,"z":4.4,"x":-1},{"c":4,"z":3,"x":-2.8},{"c":4,"z":1,"x":-4},{"c":4,"z":-1,"x":-4.7},{"c":4,"z":-3.5,"x":-5},{"c":4,"z":-4.9,"x":-3.5},{"c":4,"z":-4.9,"x":-1},{"c":4,"z":-4.2,"x":1},{"c":4,"z":-2.5,"x":3},{"c":4,"z":-0.8,"x":4.6},{"c":4,"z":1,"x":5.7},
{"c":5,"z":2.5,"x":5.4},{"c":5,"z":3.7,"x":4.5},{"c":5,"z":3.8,"x":2.5},{"c":5,"z":3.5,"x":1},{"c":5,"z":3.7,"x":-1},{"c":5,"z":2.5,"x":-2.6},{"c":5,"z":0,"x":-3.5},{"c":5,"z":-2.5,"x":-3.9},{"c":5,"z":-4,"x":-2.7},{"c":5,"z":-4.1,"x":-0.8},{"c":5,"z":-3,"x":1},{"c":5,"z":-1.5,"x":2.6},{"c":5,"z":0,"x":4},{"c":5,"z":1,"x":5},
{"c":6,"z":2.4,"x":4.8},{"c":6,"z":3.3,"x":3.8},{"c":6,"z":3,"x":2.5},{"c":6,"z":2.7,"x":1},{"c":6,"z":2.8,"x":-0.7},{"c":6,"z":1.5,"x":-2.3},{"c":6,"z":0,"x":-2.9},{"c":6,"z":-2,"x":-3.1},{"c":6,"z":-3.2,"x":-2},{"c":6,"z":-3.2,"x":-0.5},{"c":6,"z":-2,"x":0.8},{"c":6,"z":-0.6,"x":2},{"c":6,"z":0.5,"x":3.5},{"c":6,"z":1.2,"x":4.3},
{"c":7,"z":-2.5,"x":0.1},{"c":7,"z":-3,"x":-0.7},{"c":7,"z":-2.1,"x":-2.3},{"c":7,"z":0,"x":-2.7},{"c":7,"z":1,"x":-2.9},{"c":7,"z":2.3,"x":-1.5},{"c":7,"z":3.1,"x":0.3},{"c":7,"z":2.8,"x":1.9},{"c":7,"z":2,"x":3},{"c":7,"z":0.7,"x":3},{"c":7,"z":0,"x":1.5},{"c":7,"z":-0.9,"x":1.4}],
"b8":[{"c":1,"l":"l","z":-1.7,"x":5.4},{"c":1,"l":"l","z":0.2,"x":7.8},{"c":1,"l":"l","z":2.6,"x":9.1},{"c":1,"l":"l","z":5.5,"x":8.6},{"c":1,"l":"l","z":6.5,"x":4.9},{"c":1,"l":"l","z":6.3,"x":2.7},{"c":1,"l":"l","z":5.5,"x":1.9},{"c":1,"l":"l","z":2.8,"x":0.3},{"c":1,"l":"l","z":0.7,"x":0.2},{"c":1,"l":"l","z":-0.9,"x":0.9},{"c":1,"l":"l","z":-0.4,"x":4.3},
{"c":2,"l":"o","z":0.7,"x":7},{"c":2,"l":"o","z":2.8,"x":8},{"c":2,"l":"o","z":4.9,"x":7},{"c":2,"l":"o","z":5.7,"x":4.3},{"c":2,"l":"o","z":4.4,"x":2.5},{"c":2,"l":"o","z":2.3,"x":1.9},{"c":2,"l":"o","z":0.2,"x":3},{"c":2,"l":"o","z":-0.1,"x":4.9},
{"c":3,"l":"r","z":0.4,"x":6.3},{"c":3,"l":"r","z":2.3,"x":7.4},{"c":3,"l":"r","z":4.1,"x":6.7},{"c":3,"l":"r","z":4.9,"x":4.6},{"c":3,"l":"r","z":3.6,"x":2.7},{"c":3,"l":"r","z":1.8,"x":2.3},{"c":3,"l":"r","z":0.4,"x":3.7},
{"c":4,"l":"d","z":0.7,"x":5.6},{"c":4,"l":"d","z":2.6,"x":6.7},{"c":4,"l":"d","z":3.9,"x":5.9},{"c":4,"l":"d","z":4.4,"x":4.3},{"c":4,"l":"d","z":3.4,"x":3.3},{"c":4,"l":"d","z":1.8,"x":3},{"c":4,"l":"d","z":0.7,"x":4.1},
{"c":5,"l":"m","z":-17.2,"x":11.8},{"c":5,"l":"m","z":-16.1,"x":13.2},{"c":5,"l":"m","z":-17.2,"x":13.2},
{"c":6,"l":"r","z":-17.1,"x":12.4},{"c":6,"l":"r","z":-16.5,"x":13},{"c":6,"l":"r","z":-17.1,"x":13}],
"c9":[{"c":1,"z":1,"x":8.1},{"c":1,"z":3.4,"x":8.3},{"c":1,"z":6,"x":8},{"c":1,"z":7.6,"x":6.9},{"c":1,"z":7.6,"x":4},{"c":1,"z":6,"x":0.3},{"c":1,"z":5.5,"x":-2.9},{"c":1,"z":2.8,"x":-5.6},{"c":1,"z":0,"x":-6.4},{"c":1,"z":-3,"x":-7.7},{"c":1,"z":-5.7,"x":-6.9},{"c":1,"z":-7.6,"x":-2.9},{"c":1,"z":-7.6,"x":0.8},{"c":1,"z":-6.2,"x":3.5},{"c":1,"z":-4.1,"x":5.3},{"c":1,"z":0,"x":7.5},
{"c":2,"z":0,"x":5.9},{"c":2,"z":3.4,"x":6.5},{"c":2,"z":5.7,"x":5.5},{"c":2,"z":6,"x":3.4},{"c":2,"z":5.2,"x":0.3},{"c":2,"z":4.7,"x":-2.8},{"c":2,"z":2.5,"x":-5},{"c":2,"z":0,"x":-5.9},{"c":2,"z":-3,"x":-6.8},{"c":2,"z":-5.2,"x":-6},{"c":2,"z":-6.7,"x":-2.9},{"c":2,"z":-6.7,"x":0.5},{"c":2,"z":-5.5,"x":3},{"c":2,"z":-3.5,"x":4.7},
{"c":3,"z":0,"x":4.9},{"c":3,"z":2.8,"x":5.3},{"c":3,"z":4.4,"x":4.3},{"c":3,"z":4.8,"x":2.5},{"c":3,"z":4.4,"x":0},{"c":3,"z":3.9,"x":-2.5},{"c":3,"z":2,"x":-4.2},{"c":3,"z":0,"x":-5},{"c":3,"z":-3,"x":-5.8},{"c":3,"z":-4.8,"x":-5},{"c":3,"z":-5.9,"x":-2.7},{"c":3,"z":-5.8,"x":0.2},{"c":3,"z":-4.8,"x":2.3},{"c":3,"z":-2.8,"x":3.9},
{"c":4,"z":0,"x":3.9},{"c":4,"z":2.3,"x":4.2},{"c":4,"z":3.6,"x":3},{"c":4,"z":3.9,"x":1.4},{"c":4,"z":3.6,"x":-0.5},{"c":4,"z":3.1,"x":-2.3},{"c":4,"z":1.6,"x":-3.6},{"c":4,"z":0,"x":-4.1},{"c":4,"z":-2.7,"x":-5},{"c":4,"z":-4.5,"x":-4},{"c":4,"z":-5,"x":-2},{"c":4,"z":-4.9,"x":0.2},{"c":4,"z":-4,"x":2},{"c":4,"z":-2.2,"x":3.2},
{"c":5,"z":0,"x":3},{"c":5,"z":1.7,"x":3},{"c":5,"z":3,"x":2},{"c":5,"z":3,"x":0.3},{"c":5,"z":2.5,"x":-2},{"c":5,"z":1.2,"x":-3},{"c":5,"z":-0.5,"x":-3.5},{"c":5,"z":-2.7,"x":-3.8},{"c":5,"z":-4,"x":-2.8},{"c":5,"z":-4.2,"x":-0.8},{"c":5,"z":-3.4,"x":1},{"c":5,"z":-1.7,"x":2.3},
{"c":6,"z":0,"x":2.2},{"c":6,"z":1.3,"x":2},{"c":6,"z":2.3,"x":0.9},{"c":6,"z":2.3,"x":-0.8},{"c":6,"z":1.5,"x":-2.3},{"c":6,"z":0,"x":-2.8},{"c":6,"z":-2,"x":-3},{"c":6,"z":-3.2,"x":-2},{"c":6,"z":-3.5,"x":-0.6},{"c":6,"z":-2.5,"x":0.8},{"c":6,"z":-1,"x":1.7},
{"c":7,"z":0,"x":1.5},{"c":7,"z":1.2,"x":1.2},{"c":7,"z":2.1,"x":-0.2},{"c":7,"z":2,"x":-1},{"c":7,"z":0.8,"x":-2.2},{"c":7,"z":-0.6,"x":-3.3},{"c":7,"z":-2.3,"x":-3.4},{"c":7,"z":-3.3,"x":-2.6},{"c":7,"z":-3.5,"x":-1},{"c":7,"z":-2.8,"x":-0.2},{"c":7,"z":-1.2,"x":0.8}],
"b9":[{"c":1,"l":"l","z":0.2,"x":7.5},{"c":1,"l":"l","z":2.8,"x":9.6},{"c":1,"l":"l","z":8.1,"x":9.6},{"c":1,"l":"l","z":9.5,"x":8.3},{"c":1,"l":"l","z":10.3,"x":4.3},{"c":1,"l":"l","z":8.7,"x":2.4},{"c":1,"l":"l","z":6.8,"x":2.1},{"c":1,"l":"l","z":5.5,"x":-0.8},{"c":1,"l":"l","z":2.8,"x":-1.3},{"c":1,"l":"l","z":1.8,"x":-1},{"c":1,"l":"l","z":1.3,"x":1.3},{"c":1,"l":"l","z":0.2,"x":3.9},
{"c":2,"l":"m","z":2.8,"x":7.7},{"c":2,"l":"m","z":6,"x":8.5},{"c":2,"l":"m","z":7.6,"x":6.9},{"c":2,"l":"m","z":7.9,"x":3.7},{"c":2,"l":"m","z":5.5,"x":1.9},{"c":2,"l":"m","z":3.9,"x":-0.8},{"c":2,"l":"m","z":2.8,"x":-1},{"c":2,"l":"m","z":2,"x":0.8},{"c":2,"l":"m","z":2,"x":3.5},{"c":2,"l":"m","z":1.8,"x":6.2},
{"c":3,"l":"o","z":3.9,"x":6.4},{"c":3,"l":"o","z":7.1,"x":6.9},{"c":3,"l":"o","z":7.6,"x":6.1},{"c":3,"l":"o","z":7.3,"x":4},{"c":3,"l":"o","z":5.7,"x":2.9},{"c":3,"l":"o","z":3.6,"x":3.2},{"c":3,"l":"o","z":3.5,"x":5.3},
{"c":4,"l":"r","z":5.2,"x":5.2},{"c":4,"l":"r","z":4.9,"x":5.5},{"c":4,"l":"r","z":4.6,"x":5.2},{"c":4,"l":"r","z":4.9,"x":4.9},
{"c":5,"l":"m","z":-17.2,"x":11.8},{"c":5,"l":"m","z":-16.1,"x":13.2},{"c":5,"l":"m","z":-17.2,"x":13.2},
{"c":6,"l":"r","z":-17.1,"x":12.4},{"c":6,"l":"r","z":-16.6,"x":13},{"c":6,"l":"r","z":-17.1,"x":13}],
"c10":[{"c":1,"z":0,"x":7.3},{"c":1,"z":2.3,"x":7.7},{"c":1,"z":3.9,"x":7},{"c":1,"z":6,"x":7.5},{"c":1,"z":7,"x":5},{"c":1,"z":6.5,"x":0},{"c":1,"z":5.7,"x":-2.2},{"c":1,"z":3.4,"x":-4.9},{"c":1,"z":0,"x":-6.5},{"c":1,"z":-3.6,"x":-8},{"c":1,"z":-6.2,"x":-7.2},{"c":1,"z":-7.6,"x":-3.8},{"c":1,"z":-7.8,"x":-0.1},{"c":1,"z":-7.3,"x":2.6},{"c":1,"z":-5.2,"x":4.7},{"c":1,"z":-2.5,"x":6.6},
{"c":2,"z":0,"x":5.7},{"c":2,"z":2.3,"x":5.6},{"c":2,"z":4.7,"x":4.1},{"c":2,"z":5.2,"x":1.5},{"c":2,"z":5.7,"x":-0.4},{"c":2,"z":4.8,"x":-2.6},{"c":2,"z":2.8,"x":-4.3},{"c":2,"z":0,"x":-5.6},{"c":2,"z":-3.5,"x":-7},{"c":2,"z":-5.7,"x":-6.2},{"c":2,"z":-6.9,"x":-3},{"c":2,"z":-6.9,"x":0},{"c":2,"z":-6,"x":2.8},{"c":2,"z":-4,"x":4.6},{"c":2,"z":-2,"x":5.2},
{"c":3,"z":0,"x":4.6},{"c":3,"z":2.3,"x":4.2},{"c":3,"z":3.9,"x":2.8},{"c":3,"z":4.8,"x":0.8},{"c":3,"z":4.9,"x":-1},{"c":3,"z":3.8,"x":-3},{"c":3,"z":1.5,"x":-4.4},{"c":3,"z":0,"x":-4.9},{"c":3,"z":-3,"x":-5.8},{"c":3,"z":-5.2,"x":-5.2},{"c":3,"z":-6.2,"x":-2.5},{"c":3,"z":-6.1,"x":0},{"c":3,"z":-5.2,"x":2.2},{"c":3,"z":-3.2,"x":3.8},
{"c":4,"z":0,"x":3.5},{"c":4,"z":2.1,"x":3.1},{"c":4,"z":3.5,"x":1.6},{"c":4,"z":4.1,"x":0},{"c":4,"z":3.7,"x":-1.9},{"c":4,"z":2,"x":-3.4},{"c":4,"z":0,"x":-4},{"c":4,"z":-3,"x":-4.8},{"c":4,"z":-4.9,"x":-3.8},{"c":4,"z":-5.4,"x":-1.6},{"c":4,"z":-5.2,"x":0.2},{"c":4,"z":-4.3,"x":1.8},{"c":4,"z":-2.3,"x":3},
{"c":5,"z":0,"x":3},{"c":5,"z":1.8,"x":2.3},{"c":5,"z":3.1,"x":0.9},{"c":5,"z":3.5,"x":-0.6},{"c":5,"z":2.7,"x":-2.3},{"c":5,"z":0.8,"x":-3.4},{"c":5,"z":-2,"x":-3.9},{"c":5,"z":-4,"x":-3.2},{"c":5,"z":-4.7,"x":-1.4},{"c":5,"z":-4.6,"x":0.2},{"c":5,"z":-3.5,"x":1.5},{"c":5,"z":-1.7,"x":2.4},
{"c":6,"z":0,"x":2.4},{"c":6,"z":1.6,"x":1.5},{"c":6,"z":2.6,"x":0.3},{"c":6,"z":2.7,"x":-1},{"c":6,"z":1.8,"x":-2.3},{"c":6,"z":0,"x":-3},{"c":6,"z":-2.5,"x":-3.2},{"c":6,"z":-4,"x":-2.2},{"c":6,"z":-4.2,"x":-0.7},{"c":6,"z":-3.2,"x":0.6},{"c":6,"z":-1.5,"x":1.5},
{"c":7,"z":0,"x":1.5},{"c":7,"z":1.6,"x":0.5},{"c":7,"z":2.1,"x":-0.5},{"c":7,"z":1.9,"x":-1.5},{"c":7,"z":1,"x":-2.7},{"c":7,"z":-0.5,"x":-2.8},{"c":7,"z":-2.8,"x":-3.2},{"c":7,"z":-4,"x":-1.9},{"c":7,"z":-4.2,"x":-0.5},{"c":7,"z":-2.5,"x":0.4},{"c":7,"z":-1,"x":1}],
"b10":[{"c":1,"l":"l","z":4.1,"x":7.7},{"c":1,"l":"l","z":6.5,"x":9.7},{"c":1,"l":"l","z":10.8,"x":10.1},{"c":1,"l":"l","z":12.9,"x":9},{"c":1,"l":"l","z":13.7,"x":6.6},{"c":1,"l":"l","z":13.2,"x":3.7},{"c":1,"l":"l","z":10.8,"x":3.4},{"c":1,"l":"l","z":9.7,"x":1.8},{"c":1,"l":"l","z":8.4,"x":0.2},{"c":1,"l":"l","z":6.8,"x":0.5},{"c":1,"l":"l","z":4.9,"x":-0.9},{"c":1,"l":"l","z":3.6,"x":-0.3},{"c":1,"l":"l","z":2.8,"x":2.9},{"c":1,"l":"l","z":3.4,"x":5.3},
{"c":2,"l":"m","z":6.6,"x":6.2},{"c":2,"l":"m","z":8.4,"x":4.9},{"c":2,"l":"m","z":7.6,"x":4.5},
{"c":3,"l":"m","z":-17.2,"x":11.8},{"c":3,"l":"m","z":-16.1,"x":13.2},{"c":3,"l":"m","z":-17.2,"x":13.2},
{"c":4,"l":"r","z":-17.1,"x":12.4},{"c":4,"l":"r","z":-16.6,"x":13},{"c":4,"l":"r","z":-17.1,"x":13}]
},
"concat":[
{"width":217,"height":166,"resolve":{"axis":{"x":"independent","y":"independent"}},"layer":[
{"data":{"name":"b1"},"mark":{"type":"line","interpolate":"cardinal-closed","clip":true,"strokeWidth":0},"encoding":{"x":{"field":"z","type":"quantitative","scale":{"domain":[-17.3,17.3]},"axis":{"orient":"bottom","values":[-10,0,10],"tickSize":-9,"labels":false,"title":null}},"y":{"field":"x","type":"quantitative","scale":{"domain":[-13.3,13.3]},"axis":{"orient":"left","values":[-10,0,10],"tickSize":-9,"labelExpr":"''+datum.value","title":null}},"fill":{"field":"l","type":"nominal","legend":null,"scale":{"domain":["l","m","o","r","d","w"],"range":["#fdc896","#fda95b","#fb8a12","#ee1c1c","#6f0a0a","#ffffff"]}},"detail":{"field":"c"},"order":{"value":null}}},
{"data":{"name":"c1"},"mark":{"type":"line","interpolate":"cardinal-closed","stroke":"black","strokeWidth":1.3},"encoding":{"x":{"field":"z","type":"quantitative","scale":{"domain":[-17.3,17.3]},"axis":{"orient":"bottom","values":[-16,-14,-12,-8,-6,-4,-2,2,4,6,8,12,14,16],"tickSize":-4.5,"labels":false,"title":null}},"y":{"field":"x","type":"quantitative","scale":{"domain":[-13.3,13.3]},"axis":{"orient":"left","values":[-12,-8,-6,-4,-2,2,4,6,8,12],"tickSize":-4.5,"labels":false,"title":null}},"detail":{"field":"c"},"order":{"value":null}}},
{"data":{"name":"cross"},"mark":{"type":"line","stroke":"black","strokeWidth":1.3},"encoding":{"x":{"field":"z","type":"quantitative","scale":{"domain":[-17.3,17.3]},"axis":{"orient":"top","values":[-10,0,10],"tickSize":-9,"labels":false,"title":null}},"y":{"field":"x","type":"quantitative","scale":{"domain":[-13.3,13.3]},"axis":{"orient":"right","values":[-10,0,10],"tickSize":-9,"labels":false,"title":null}},"detail":{"field":"c"},"order":{"value":null}}},
{"data":{"values":[{"t":"t =\u00a0\u00a0\u00a0\u00a00.0 fm/c","z":0,"x":-10.5},{"t":"a)","z":11,"x":8.2}]},"mark":{"type":"text"},"encoding":{"text":{"field":"t"},"x":{"field":"z","type":"quantitative","scale":{"domain":[-17.3,17.3]},"axis":{"orient":"top","values":[-16,-14,-12,-8,-6,-4,-2,2,4,6,8,12,14,16],"tickSize":-4.5,"labels":false,"title":null}},"y":{"field":"x","type":"quantitative","scale":{"domain":[-13.3,13.3]},"axis":{"orient":"right","values":[-12,-8,-6,-4,-2,2,4,6,8,12],"tickSize":-4.5,"labels":false,"title":null}}}}]},
{"width":217,"height":166,"resolve":{"axis":{"x":"independent","y":"independent"}},"layer":[
{"data":{"name":"b6"},"mark":{"type":"line","interpolate":"cardinal-closed","clip":true,"strokeWidth":0},"encoding":{"x":{"field":"z","type":"quantitative","scale":{"domain":[-17.3,17.3]},"axis":{"orient":"bottom","values":[-10,0,10],"tickSize":-9,"labels":false,"title":null}},"y":{"field":"x","type":"quantitative","scale":{"domain":[-13.3,13.3]},"axis":{"orient":"left","values":[-10,0,10],"tickSize":-9,"labelExpr":"''+datum.value","title":null}},"fill":{"field":"l","type":"nominal","legend":null,"scale":{"domain":["l","m","o","r","d","w"],"range":["#fdc896","#fda95b","#fb8a12","#ee1c1c","#6f0a0a","#ffffff"]}},"detail":{"field":"c"},"order":{"value":null}}},
{"data":{"name":"c6"},"mark":{"type":"line","interpolate":"cardinal-closed","stroke":"black","strokeWidth":1.3},"encoding":{"x":{"field":"z","type":"quantitative","scale":{"domain":[-17.3,17.3]},"axis":{"orient":"bottom","values":[-16,-14,-12,-8,-6,-4,-2,2,4,6,8,12,14,16],"tickSize":-4.5,"labels":false,"title":null}},"y":{"field":"x","type":"quantitative","scale":{"domain":[-13.3,13.3]},"axis":{"orient":"left","values":[-12,-8,-6,-4,-2,2,4,6,8,12],"tickSize":-4.5,"labels":false,"title":null}},"detail":{"field":"c"},"order":{"value":null}}},
{"data":{"name":"cross"},"mark":{"type":"line","stroke":"black","strokeWidth":1.3},"encoding":{"x":{"field":"z","type":"quantitative","scale":{"domain":[-17.3,17.3]},"axis":{"orient":"top","values":[-10,0,10],"tickSize":-9,"labels":false,"title":null}},"y":{"field":"x","type":"quantitative","scale":{"domain":[-13.3,13.3]},"axis":{"orient":"right","values":[-10,0,10],"tickSize":-9,"labels":false,"title":null}},"detail":{"field":"c"},"order":{"value":null}}},
{"data":{"values":[{"t":"t =\u00a0\u00a0\u00a0\u00a00.0 fm/c","z":0,"x":-10.5},{"t":"b)","z":11,"x":8.2}]},"mark":{"type":"text"},"encoding":{"text":{"field":"t"},"x":{"field":"z","type":"quantitative","scale":{"domain":[-17.3,17.3]},"axis":{"orient":"top","values":[-16,-14,-12,-8,-6,-4,-2,2,4,6,8,12,14,16],"tickSize":-4.5,"labels":false,"title":null}},"y":{"field":"x","type":"quantitative","scale":{"domain":[-13.3,13.3]},"axis":{"orient":"right","values":[-12,-8,-6,-4,-2,2,4,6,8,12],"tickSize":-4.5,"labels":false,"title":null}}}}]},
{"width":217,"height":166,"resolve":{"axis":{"x":"independent","y":"independent"}},"layer":[
{"data":{"name":"b2"},"mark":{"type":"line","interpolate":"cardinal-closed","clip":true,"strokeWidth":0},"encoding":{"x":{"field":"z","type":"quantitative","scale":{"domain":[-17.3,17.3]},"axis":{"orient":"bottom","values":[-10,0,10],"tickSize":-9,"labels":false,"title":null}},"y":{"field":"x","type":"quantitative","scale":{"domain":[-13.3,13.3]},"axis":{"orient":"left","values":[-10,0,10],"tickSize":-9,"labelExpr":"''+datum.value","title":null}},"fill":{"field":"l","type":"nominal","legend":null,"scale":{"domain":["l","m","o","r","d","w"],"range":["#fdc896","#fda95b","#fb8a12","#ee1c1c","#6f0a0a","#ffffff"]}},"detail":{"field":"c"},"order":{"value":null}}},
{"data":{"name":"c2"},"mark":{"type":"line","interpolate":"cardinal-closed","stroke":"black","strokeWidth":1.3},"encoding":{"x":{"field":"z","type":"quantitative","scale":{"domain":[-17.3,17.3]},"axis":{"orient":"bottom","values":[-16,-14,-12,-8,-6,-4,-2,2,4,6,8,12,14,16],"tickSize":-4.5,"labels":false,"title":null}},"y":{"field":"x","type":"quantitative","scale":{"domain":[-13.3,13.3]},"axis":{"orient":"left","values":[-12,-8,-6,-4,-2,2,4,6,8,12],"tickSize":-4.5,"labels":false,"title":null}},"detail":{"field":"c"},"order":{"value":null}}},
{"data":{"name":"cross"},"mark":{"type":"line","stroke":"black","strokeWidth":1.3},"encoding":{"x":{"field":"z","type":"quantitative","scale":{"domain":[-17.3,17.3]},"axis":{"orient":"top","values":[-10,0,10],"tickSize":-9,"labels":false,"title":null}},"y":{"field":"x","type":"quantitative","scale":{"domain":[-13.3,13.3]},"axis":{"orient":"right","values":[-10,0,10],"tickSize":-9,"labels":false,"title":null}},"detail":{"field":"c"},"order":{"value":null}}},
{"data":{"values":[{"t":"t =\u00a0\u00a0\u00a030.0 fm/c","z":0,"x":-10.5}]},"mark":{"type":"text"},"encoding":{"text":{"field":"t"},"x":{"field":"z","type":"quantitative","scale":{"domain":[-17.3,17.3]},"axis":{"orient":"top","values":[-16,-14,-12,-8,-6,-4,-2,2,4,6,8,12,14,16],"tickSize":-4.5,"labels":false,"title":null}},"y":{"field":"x","type":"quantitative","scale":{"domain":[-13.3,13.3]},"axis":{"orient":"right","values":[-12,-8,-6,-4,-2,2,4,6,8,12],"tickSize":-4.5,"labels":false,"title":null}}}}]},
{"width":217,"height":166,"resolve":{"axis":{"x":"independent","y":"independent"}},"layer":[
{"data":{"name":"b7"},"mark":{"type":"line","interpolate":"cardinal-closed","clip":true,"strokeWidth":0},"encoding":{"x":{"field":"z","type":"quantitative","scale":{"domain":[-17.3,17.3]},"axis":{"orient":"bottom","values":[-10,0,10],"tickSize":-9,"labels":false,"title":null}},"y":{"field":"x","type":"quantitative","scale":{"domain":[-13.3,13.3]},"axis":{"orient":"left","values":[-10,0,10],"tickSize":-9,"labelExpr":"''+datum.value","title":null}},"fill":{"field":"l","type":"nominal","legend":null,"scale":{"domain":["l","m","o","r","d","w"],"range":["#fdc896","#fda95b","#fb8a12","#ee1c1c","#6f0a0a","#ffffff"]}},"detail":{"field":"c"},"order":{"value":null}}},
{"data":{"name":"c7"},"mark":{"type":"line","interpolate":"cardinal-closed","stroke":"black","strokeWidth":1.3},"encoding":{"x":{"field":"z","type":"quantitative","scale":{"domain":[-17.3,17.3]},"axis":{"orient":"bottom","values":[-16,-14,-12,-8,-6,-4,-2,2,4,6,8,12,14,16],"tickSize":-4.5,"labels":false,"title":null}},"y":{"field":"x","type":"quantitative","scale":{"domain":[-13.3,13.3]},"axis":{"orient":"left","values":[-12,-8,-6,-4,-2,2,4,6,8,12],"tickSize":-4.5,"labels":false,"title":null}},"detail":{"field":"c"},"order":{"value":null}}},
{"data":{"name":"cross"},"mark":{"type":"line","stroke":"black","strokeWidth":1.3},"encoding":{"x":{"field":"z","type":"quantitative","scale":{"domain":[-17.3,17.3]},"axis":{"orient":"top","values":[-10,0,10],"tickSize":-9,"labels":false,"title":null}},"y":{"field":"x","type":"quantitative","scale":{"domain":[-13.3,13.3]},"axis":{"orient":"right","values":[-10,0,10],"tickSize":-9,"labels":false,"title":null}},"detail":{"field":"c"},"order":{"value":null}}},
{"data":{"values":[{"t":"t =\u00a0\u00a0\u00a018.0 fm/c","z":0,"x":-10.5}]},"mark":{"type":"text"},"encoding":{"text":{"field":"t"},"x":{"field":"z","type":"quantitative","scale":{"domain":[-17.3,17.3]},"axis":{"orient":"top","values":[-16,-14,-12,-8,-6,-4,-2,2,4,6,8,12,14,16],"tickSize":-4.5,"labels":false,"title":null}},"y":{"field":"x","type":"quantitative","scale":{"domain":[-13.3,13.3]},"axis":{"orient":"right","values":[-12,-8,-6,-4,-2,2,4,6,8,12],"tickSize":-4.5,"labels":false,"title":null}}}}]},
{"width":217,"height":166,"resolve":{"axis":{"x":"independent","y":"independent"}},"layer":[
{"data":{"name":"b3"},"mark":{"type":"line","interpolate":"cardinal-closed","clip":true,"strokeWidth":0},"encoding":{"x":{"field":"z","type":"quantitative","scale":{"domain":[-17.3,17.3]},"axis":{"orient":"bottom","values":[-10,0,10],"tickSize":-9,"labels":false,"title":null}},"y":{"field":"x","type":"quantitative","scale":{"domain":[-13.3,13.3]},"axis":{"orient":"left","values":[-10,0,10],"tickSize":-9,"labelExpr":"''+datum.value","title":"X\u00a0\u00a0AXIS","titlePadding":22}},"fill":{"field":"l","type":"nominal","legend":null,"scale":{"domain":["l","m","o","r","d","w"],"range":["#fdc896","#fda95b","#fb8a12","#ee1c1c","#6f0a0a","#ffffff"]}},"detail":{"field":"c"},"order":{"value":null}}},
{"data":{"name":"c3"},"mark":{"type":"line","interpolate":"cardinal-closed","stroke":"black","strokeWidth":1.3},"encoding":{"x":{"field":"z","type":"quantitative","scale":{"domain":[-17.3,17.3]},"axis":{"orient":"bottom","values":[-16,-14,-12,-8,-6,-4,-2,2,4,6,8,12,14,16],"tickSize":-4.5,"labels":false,"title":null}},"y":{"field":"x","type":"quantitative","scale":{"domain":[-13.3,13.3]},"axis":{"orient":"left","values":[-12,-8,-6,-4,-2,2,4,6,8,12],"tickSize":-4.5,"labels":false,"title":null}},"detail":{"field":"c"},"order":{"value":null}}},
{"data":{"name":"cross"},"mark":{"type":"line","stroke":"black","strokeWidth":1.3},"encoding":{"x":{"field":"z","type":"quantitative","scale":{"domain":[-17.3,17.3]},"axis":{"orient":"top","values":[-10,0,10],"tickSize":-9,"labels":false,"title":null}},"y":{"field":"x","type":"quantitative","scale":{"domain":[-13.3,13.3]},"axis":{"orient":"right","values":[-10,0,10],"tickSize":-9,"labels":false,"title":null}},"detail":{"field":"c"},"order":{"value":null}}},
{"data":{"values":[{"t":"t =\u00a0\u00a0\u00a060.0 fm/c","z":0,"x":-10.5}]},"mark":{"type":"text"},"encoding":{"text":{"field":"t"},"x":{"field":"z","type":"quantitative","scale":{"domain":[-17.3,17.3]},"axis":{"orient":"top","values":[-16,-14,-12,-8,-6,-4,-2,2,4,6,8,12,14,16],"tickSize":-4.5,"labels":false,"title":null}},"y":{"field":"x","type":"quantitative","scale":{"domain":[-13.3,13.3]},"axis":{"orient":"right","values":[-12,-8,-6,-4,-2,2,4,6,8,12],"tickSize":-4.5,"labels":false,"title":null}}}}]},
{"width":217,"height":166,"resolve":{"axis":{"x":"independent","y":"independent"}},"layer":[
{"data":{"name":"b8"},"mark":{"type":"line","interpolate":"cardinal-closed","clip":true,"strokeWidth":0},"encoding":{"x":{"field":"z","type":"quantitative","scale":{"domain":[-17.3,17.3]},"axis":{"orient":"bottom","values":[-10,0,10],"tickSize":-9,"labels":false,"title":null}},"y":{"field":"x","type":"quantitative","scale":{"domain":[-13.3,13.3]},"axis":{"orient":"left","values":[-10,0,10],"tickSize":-9,"labelExpr":"''+datum.value","title":"X\u00a0\u00a0AXIS","titlePadding":22}},"fill":{"field":"l","type":"nominal","legend":null,"scale":{"domain":["l","m","o","r","d","w"],"range":["#fdc896","#fda95b","#fb8a12","#ee1c1c","#6f0a0a","#ffffff"]}},"detail":{"field":"c"},"order":{"value":null}}},
{"data":{"name":"c8"},"mark":{"type":"line","interpolate":"cardinal-closed","stroke":"black","strokeWidth":1.3},"encoding":{"x":{"field":"z","type":"quantitative","scale":{"domain":[-17.3,17.3]},"axis":{"orient":"bottom","values":[-16,-14,-12,-8,-6,-4,-2,2,4,6,8,12,14,16],"tickSize":-4.5,"labels":false,"title":null}},"y":{"field":"x","type":"quantitative","scale":{"domain":[-13.3,13.3]},"axis":{"orient":"left","values":[-12,-8,-6,-4,-2,2,4,6,8,12],"tickSize":-4.5,"labels":false,"title":null}},"detail":{"field":"c"},"order":{"value":null}}},
{"data":{"name":"cross"},"mark":{"type":"line","stroke":"black","strokeWidth":1.3},"encoding":{"x":{"field":"z","type":"quantitative","scale":{"domain":[-17.3,17.3]},"axis":{"orient":"top","values":[-10,0,10],"tickSize":-9,"labels":false,"title":null}},"y":{"field":"x","type":"quantitative","scale":{"domain":[-13.3,13.3]},"axis":{"orient":"right","values":[-10,0,10],"tickSize":-9,"labels":false,"title":null}},"detail":{"field":"c"},"order":{"value":null}}},
{"data":{"values":[{"t":"t =\u00a0\u00a0\u00a026.0 fm/c","z":0,"x":-10.5}]},"mark":{"type":"text"},"encoding":{"text":{"field":"t"},"x":{"field":"z","type":"quantitative","scale":{"domain":[-17.3,17.3]},"axis":{"orient":"top","values":[-16,-14,-12,-8,-6,-4,-2,2,4,6,8,12,14,16],"tickSize":-4.5,"labels":false,"title":null}},"y":{"field":"x","type":"quantitative","scale":{"domain":[-13.3,13.3]},"axis":{"orient":"right","values":[-12,-8,-6,-4,-2,2,4,6,8,12],"tickSize":-4.5,"labels":false,"title":null}}}}]},
{"width":217,"height":167,"resolve":{"axis":{"x":"independent","y":"independent"}},"layer":[
{"data":{"name":"b4"},"mark":{"type":"line","interpolate":"cardinal-closed","clip":true,"strokeWidth":0},"encoding":{"x":{"field":"z","type":"quantitative","scale":{"domain":[-17.3,17.3]},"axis":{"orient":"bottom","values":[-10,0,10],"tickSize":-9,"labels":false,"title":null}},"y":{"field":"x","type":"quantitative","scale":{"domain":[-13.3,13.3]},"axis":{"orient":"left","values":[-10,0,10],"tickSize":-9,"labelExpr":"''+datum.value","title":null}},"fill":{"field":"l","type":"nominal","legend":null,"scale":{"domain":["l","m","o","r","d","w"],"range":["#fdc896","#fda95b","#fb8a12","#ee1c1c","#6f0a0a","#ffffff"]}},"detail":{"field":"c"},"order":{"value":null}}},
{"data":{"name":"c4"},"mark":{"type":"line","interpolate":"cardinal-closed","stroke":"black","strokeWidth":1.3},"encoding":{"x":{"field":"z","type":"quantitative","scale":{"domain":[-17.3,17.3]},"axis":{"orient":"bottom","values":[-16,-14,-12,-8,-6,-4,-2,2,4,6,8,12,14,16],"tickSize":-4.5,"labels":false,"title":null}},"y":{"field":"x","type":"quantitative","scale":{"domain":[-13.3,13.3]},"axis":{"orient":"left","values":[-12,-8,-6,-4,-2,2,4,6,8,12],"tickSize":-4.5,"labels":false,"title":null}},"detail":{"field":"c"},"order":{"value":null}}},
{"data":{"name":"cross"},"mark":{"type":"line","stroke":"black","strokeWidth":1.3},"encoding":{"x":{"field":"z","type":"quantitative","scale":{"domain":[-17.3,17.3]},"axis":{"orient":"top","values":[-10,0,10],"tickSize":-9,"labels":false,"title":null}},"y":{"field":"x","type":"quantitative","scale":{"domain":[-13.3,13.3]},"axis":{"orient":"right","values":[-10,0,10],"tickSize":-9,"labels":false,"title":null}},"detail":{"field":"c"},"order":{"value":null}}},
{"data":{"values":[{"t":"t =\u00a0\u00a0\u00a090.0 fm/c","z":0,"x":-10.5}]},"mark":{"type":"text"},"encoding":{"text":{"field":"t"},"x":{"field":"z","type":"quantitative","scale":{"domain":[-17.3,17.3]},"axis":{"orient":"top","values":[-16,-14,-12,-8,-6,-4,-2,2,4,6,8,12,14,16],"tickSize":-4.5,"labels":false,"title":null}},"y":{"field":"x","type":"quantitative","scale":{"domain":[-13.3,13.3]},"axis":{"orient":"right","values":[-12,-8,-6,-4,-2,2,4,6,8,12],"tickSize":-4.5,"labels":false,"title":null}}}},
{"data":{"name":"thick"},"mark":{"type":"line","stroke":"#444444","strokeWidth":2.2},"encoding":{"x":{"field":"z","type":"quantitative","scale":{"domain":[-17.3,17.3]},"axis":null},"y":{"field":"x","type":"quantitative","scale":{"domain":[-13.3,13.3]},"axis":null}}}]},
{"width":217,"height":167,"resolve":{"axis":{"x":"independent","y":"independent"}},"layer":[
{"data":{"name":"b9"},"mark":{"type":"line","interpolate":"cardinal-closed","clip":true,"strokeWidth":0},"encoding":{"x":{"field":"z","type":"quantitative","scale":{"domain":[-17.3,17.3]},"axis":{"orient":"bottom","values":[-10,0,10],"tickSize":-9,"labels":false,"title":null}},"y":{"field":"x","type":"quantitative","scale":{"domain":[-13.3,13.3]},"axis":{"orient":"left","values":[-10,0,10],"tickSize":-9,"labelExpr":"''+datum.value","title":null}},"fill":{"field":"l","type":"nominal","legend":null,"scale":{"domain":["l","m","o","r","d","w"],"range":["#fdc896","#fda95b","#fb8a12","#ee1c1c","#6f0a0a","#ffffff"]}},"detail":{"field":"c"},"order":{"value":null}}},
{"data":{"name":"c9"},"mark":{"type":"line","interpolate":"cardinal-closed","stroke":"black","strokeWidth":1.3},"encoding":{"x":{"field":"z","type":"quantitative","scale":{"domain":[-17.3,17.3]},"axis":{"orient":"bottom","values":[-16,-14,-12,-8,-6,-4,-2,2,4,6,8,12,14,16],"tickSize":-4.5,"labels":false,"title":null}},"y":{"field":"x","type":"quantitative","scale":{"domain":[-13.3,13.3]},"axis":{"orient":"left","values":[-12,-8,-6,-4,-2,2,4,6,8,12],"tickSize":-4.5,"labels":false,"title":null}},"detail":{"field":"c"},"order":{"value":null}}},
{"data":{"name":"cross"},"mark":{"type":"line","stroke":"black","strokeWidth":1.3},"encoding":{"x":{"field":"z","type":"quantitative","scale":{"domain":[-17.3,17.3]},"axis":{"orient":"top","values":[-10,0,10],"tickSize":-9,"labels":false,"title":null}},"y":{"field":"x","type":"quantitative","scale":{"domain":[-13.3,13.3]},"axis":{"orient":"right","values":[-10,0,10],"tickSize":-9,"labels":false,"title":null}},"detail":{"field":"c"},"order":{"value":null}}},
{"data":{"values":[{"t":"t =\u00a0\u00a0\u00a034.0 fm/c","z":0,"x":-10.5}]},"mark":{"type":"text"},"encoding":{"text":{"field":"t"},"x":{"field":"z","type":"quantitative","scale":{"domain":[-17.3,17.3]},"axis":{"orient":"top","values":[-16,-14,-12,-8,-6,-4,-2,2,4,6,8,12,14,16],"tickSize":-4.5,"labels":false,"title":null}},"y":{"field":"x","type":"quantitative","scale":{"domain":[-13.3,13.3]},"axis":{"orient":"right","values":[-12,-8,-6,-4,-2,2,4,6,8,12],"tickSize":-4.5,"labels":false,"title":null}}}},
{"data":{"name":"thick"},"mark":{"type":"line","stroke":"#444444","strokeWidth":2.2},"encoding":{"x":{"field":"z","type":"quantitative","scale":{"domain":[-17.3,17.3]},"axis":null},"y":{"field":"x","type":"quantitative","scale":{"domain":[-13.3,13.3]},"axis":null}}}]},
{"width":217,"height":166,"resolve":{"axis":{"x":"independent","y":"independent"}},"layer":[
{"data":{"name":"b5"},"mark":{"type":"line","interpolate":"cardinal-closed","clip":true,"strokeWidth":0},"encoding":{"x":{"field":"z","type":"quantitative","scale":{"domain":[-17.3,17.3]},"axis":{"orient":"bottom","values":[-10,0,10],"tickSize":-9,"labelExpr":"''+datum.value","title":"Z\u00a0\u00a0AXIS"}},"y":{"field":"x","type":"quantitative","scale":{"domain":[-13.3,13.3]},"axis":{"orient":"left","values":[-10,0,10],"tickSize":-9,"labelExpr":"''+datum.value","title":null}},"fill":{"field":"l","type":"nominal","legend":null,"scale":{"domain":["l","m","o","r","d","w"],"range":["#fdc896","#fda95b","#fb8a12","#ee1c1c","#6f0a0a","#ffffff"]}},"detail":{"field":"c"},"order":{"value":null}}},
{"data":{"name":"c5"},"mark":{"type":"line","interpolate":"cardinal-closed","stroke":"black","strokeWidth":1.3},"encoding":{"x":{"field":"z","type":"quantitative","scale":{"domain":[-17.3,17.3]},"axis":{"orient":"bottom","values":[-16,-14,-12,-8,-6,-4,-2,2,4,6,8,12,14,16],"tickSize":-4.5,"labels":false,"title":null}},"y":{"field":"x","type":"quantitative","scale":{"domain":[-13.3,13.3]},"axis":{"orient":"left","values":[-12,-8,-6,-4,-2,2,4,6,8,12],"tickSize":-4.5,"labels":false,"title":null}},"detail":{"field":"c"},"order":{"value":null}}},
{"data":{"name":"cross"},"mark":{"type":"line","stroke":"black","strokeWidth":1.3},"encoding":{"x":{"field":"z","type":"quantitative","scale":{"domain":[-17.3,17.3]},"axis":{"orient":"top","values":[-10,0,10],"tickSize":-9,"labels":false,"title":null}},"y":{"field":"x","type":"quantitative","scale":{"domain":[-13.3,13.3]},"axis":{"orient":"right","values":[-10,0,10],"tickSize":-9,"labels":false,"title":null}},"detail":{"field":"c"},"order":{"value":null}}},
{"data":{"values":[{"t":"t =\u00a0\u00a0170.0 fm/c","z":0,"x":-10.5}]},"mark":{"type":"text"},"encoding":{"text":{"field":"t"},"x":{"field":"z","type":"quantitative","scale":{"domain":[-17.3,17.3]},"axis":{"orient":"top","values":[-16,-14,-12,-8,-6,-4,-2,2,4,6,8,12,14,16],"tickSize":-4.5,"labels":false,"title":null}},"y":{"field":"x","type":"quantitative","scale":{"domain":[-13.3,13.3]},"axis":{"orient":"right","values":[-12,-8,-6,-4,-2,2,4,6,8,12],"tickSize":-4.5,"labels":false,"title":null}}}}]},
{"width":217,"height":166,"resolve":{"axis":{"x":"independent","y":"independent"}},"layer":[
{"data":{"name":"b10"},"mark":{"type":"line","interpolate":"cardinal-closed","clip":true,"strokeWidth":0},"encoding":{"x":{"field":"z","type":"quantitative","scale":{"domain":[-17.3,17.3]},"axis":{"orient":"bottom","values":[-10,0,10],"tickSize":-9,"labelExpr":"''+datum.value","title":"Z\u00a0\u00a0AXIS"}},"y":{"field":"x","type":"quantitative","scale":{"domain":[-13.3,13.3]},"axis":{"orient":"left","values":[-10,0,10],"tickSize":-9,"labelExpr":"''+datum.value","title":null}},"fill":{"field":"l","type":"nominal","legend":null,"scale":{"domain":["l","m","o","r","d","w"],"range":["#fdc896","#fda95b","#fb8a12","#ee1c1c","#6f0a0a","#ffffff"]}},"detail":{"field":"c"},"order":{"value":null}}},
{"data":{"name":"c10"},"mark":{"type":"line","interpolate":"cardinal-closed","stroke":"black","strokeWidth":1.3},"encoding":{"x":{"field":"z","type":"quantitative","scale":{"domain":[-17.3,17.3]},"axis":{"orient":"bottom","values":[-16,-14,-12,-8,-6,-4,-2,2,4,6,8,12,14,16],"tickSize":-4.5,"labels":false,"title":null}},"y":{"field":"x","type":"quantitative","scale":{"domain":[-13.3,13.3]},"axis":{"orient":"left","values":[-12,-8,-6,-4,-2,2,4,6,8,12],"tickSize":-4.5,"labels":false,"title":null}},"detail":{"field":"c"},"order":{"value":null}}},
{"data":{"name":"cross"},"mark":{"type":"line","stroke":"black","strokeWidth":1.3},"encoding":{"x":{"field":"z","type":"quantitative","scale":{"domain":[-17.3,17.3]},"axis":{"orient":"top","values":[-10,0,10],"tickSize":-9,"labels":false,"title":null}},"y":{"field":"x","type":"quantitative","scale":{"domain":[-13.3,13.3]},"axis":{"orient":"right","values":[-10,0,10],"tickSize":-9,"labels":false,"title":null}},"detail":{"field":"c"},"order":{"value":null}}},
{"data":{"values":[{"t":"t =\u00a0\u00a0\u00a042.0 fm/c","z":0,"x":-10.5}]},"mark":{"type":"text"},"encoding":{"text":{"field":"t"},"x":{"field":"z","type":"quantitative","scale":{"domain":[-17.3,17.3]},"axis":{"orient":"top","values":[-16,-14,-12,-8,-6,-4,-2,2,4,6,8,12,14,16],"tickSize":-4.5,"labels":false,"title":null}},"y":{"field":"x","type":"quantitative","scale":{"domain":[-13.3,13.3]},"axis":{"orient":"right","values":[-12,-8,-6,-4,-2,2,4,6,8,12],"tickSize":-4.5,"labels":false,"title":null}}}}]}
],"columns":2,"spacing":{"column":95.7,"row":0},"bounds":"flush"}
